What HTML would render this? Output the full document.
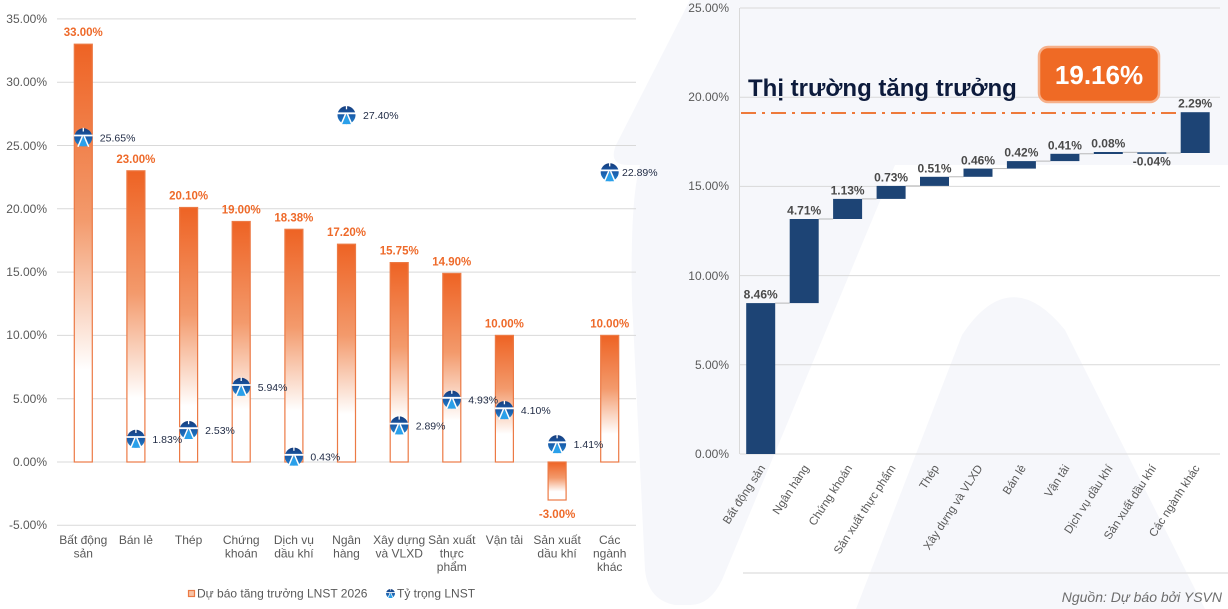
<!DOCTYPE html>
<html>
<head>
<meta charset="utf-8">
<style>
html,body{margin:0;padding:0;background:#fff;}
body{width:1228px;height:609px;overflow:hidden;}
svg{display:block;}
</style>
</head>
<body>
<svg width="1228" height="609" viewBox="0 0 1228 609" xmlns="http://www.w3.org/2000/svg" font-family="'Liberation Sans', Arial, sans-serif">
<defs>
  <linearGradient id="og" x1="0" y1="0" x2="0" y2="1">
    <stop offset="0" stop-color="#ee6324"/>
    <stop offset="0.42" stop-color="#f39a6c"/>
    <stop offset="0.78" stop-color="#ffffff"/>
    <stop offset="1" stop-color="#ffffff"/>
  </linearGradient>
  <linearGradient id="mg" x1="0" y1="0" x2="0" y2="1">
    <stop offset="0" stop-color="#163d7c"/>
    <stop offset="0.45" stop-color="#1a5aa8"/>
    <stop offset="1" stop-color="#1f80cc"/>
  </linearGradient>
  <g id="mk">
    <circle r="9" fill="url(#mg)"/>
    <polygon points="0,-0.5 -4.8,9 4.8,9" fill="#2aa0ea"/>
    <path d="M-9.5,-1.8 H9.5" stroke="#fff" stroke-width="1.8"/>
    <path d="M-0.9,-1 L-5.4,9.5 M0.9,-1 L5.4,9.5" stroke="#fff" stroke-width="1.5"/>
    <path d="M0,-9.5 V-5.8" stroke="#fff" stroke-width="1.3"/>
  </g>
</defs>

<!-- watermark shapes -->
<g fill="#f6f7fb">
  <path d="M690,0 L1228,0 L1228,165 L628,165 Q608,165 616,145 Z"/>
  <path d="M640,165 L895,165 L722,580 Q710,605 690,605 L675,605 Q648,600 645,570 L632,300 Q630,200 640,165 Z"/>
  <path d="M856,609 L962,335 Q1010,262 1065,330 L1205,609 Z"/>
</g>

<!-- ================= LEFT CHART ================= -->
<g stroke="#d9d9d9" stroke-width="1">
  <line x1="57" x2="636" y1="18.9" y2="18.9"/>
  <line x1="57" x2="636" y1="82.2" y2="82.2"/>
  <line x1="57" x2="636" y1="145.5" y2="145.5"/>
  <line x1="57" x2="636" y1="208.8" y2="208.8"/>
  <line x1="57" x2="636" y1="272.1" y2="272.1"/>
  <line x1="57" x2="636" y1="335.4" y2="335.4"/>
  <line x1="57" x2="636" y1="398.7" y2="398.7"/>
  <line x1="57" x2="636" y1="462" y2="462"/>
  <line x1="57" x2="636" y1="525.3" y2="525.3"/>
</g>
<g font-size="12" fill="#595959" text-anchor="end">
  <text x="47" y="23">35.00%</text>
  <text x="47" y="86">30.00%</text>
  <text x="47" y="150">25.00%</text>
  <text x="47" y="213">20.00%</text>
  <text x="47" y="276">15.00%</text>
  <text x="47" y="339">10.00%</text>
  <text x="47" y="403">5.00%</text>
  <text x="47" y="466">0.00%</text>
  <text x="47" y="529">-5.00%</text>
</g>

<g fill="url(#og)" stroke="#ec7a45" stroke-width="1.2">
  <rect x="74.3" y="44.2" width="18" height="417.8"/>
  <rect x="126.9" y="170.8" width="18" height="291.2"/>
  <rect x="179.6" y="207.5" width="18" height="254.5"/>
  <rect x="232.2" y="221.5" width="18" height="240.5"/>
  <rect x="284.9" y="229.3" width="18" height="232.7"/>
  <rect x="337.5" y="244.2" width="18" height="217.8"/>
  <rect x="390.2" y="262.6" width="18" height="199.4"/>
  <rect x="442.8" y="273.4" width="18" height="188.6"/>
  <rect x="495.4" y="335.4" width="18" height="126.6"/>
  <rect x="548.1" y="462" width="18" height="38"/>
  <rect x="600.7" y="335.4" width="18" height="126.6"/>
</g>

<g font-size="11.5" font-weight="bold" fill="#ee6a2a" text-anchor="middle">
  <text x="83.3" y="36">33.00%</text>
  <text x="135.9" y="163">23.00%</text>
  <text x="188.6" y="199.5">20.10%</text>
  <text x="241.2" y="213.5">19.00%</text>
  <text x="293.9" y="221.3">18.38%</text>
  <text x="346.5" y="236.2">17.20%</text>
  <text x="399.2" y="254.6">15.75%</text>
  <text x="451.8" y="265.4">14.90%</text>
  <text x="504.4" y="327.4">10.00%</text>
  <text x="557.1" y="518">-3.00%</text>
  <text x="609.7" y="327.4">10.00%</text>
</g>

<use href="#mk" x="83.3" y="137.3"/>
<use href="#mk" x="135.9" y="438.8"/>
<use href="#mk" x="188.6" y="430"/>
<use href="#mk" x="241.2" y="386.8"/>
<use href="#mk" x="293.9" y="456.6"/>
<use href="#mk" x="346.5" y="115.1"/>
<use href="#mk" x="399.2" y="425.4"/>
<use href="#mk" x="451.8" y="399.6"/>
<use href="#mk" x="504.4" y="410.1"/>
<use href="#mk" x="557.1" y="444.1"/>
<use href="#mk" x="609.7" y="172.2"/>

<g font-size="10.5" fill="#1f2a44">
  <text x="99.8" y="141.3">25.65%</text>
  <text x="152.4" y="442.8">1.83%</text>
  <text x="205.1" y="434">2.53%</text>
  <text x="257.7" y="390.8">5.94%</text>
  <text x="310.4" y="460.6">0.43%</text>
  <text x="363" y="119.1">27.40%</text>
  <text x="415.7" y="429.4">2.89%</text>
  <text x="468.3" y="403.6">4.93%</text>
  <text x="520.9" y="414.1">4.10%</text>
  <text x="573.6" y="448.1">1.41%</text>
  <text x="622" y="176.2">22.89%</text>
</g>

<g font-size="12" fill="#595959" text-anchor="middle">
  <text x="83.3" y="544">Bất động</text><text x="83.3" y="557.5">sản</text>
  <text x="135.9" y="544">Bán lẻ</text>
  <text x="188.6" y="544">Thép</text>
  <text x="241.2" y="544">Chứng</text><text x="241.2" y="557.5">khoán</text>
  <text x="293.9" y="544">Dịch vụ</text><text x="293.9" y="557.5">dầu khí</text>
  <text x="346.5" y="544">Ngân</text><text x="346.5" y="557.5">hàng</text>
  <text x="399.2" y="544">Xây dựng</text><text x="399.2" y="557.5">và VLXD</text>
  <text x="451.8" y="544">Sản xuất</text><text x="451.8" y="557.5">thực</text><text x="451.8" y="571">phẩm</text>
  <text x="504.4" y="544">Vận tải</text>
  <text x="557.1" y="544">Sản xuất</text><text x="557.1" y="557.5">dầu khí</text>
  <text x="609.7" y="544">Các</text><text x="609.7" y="557.5">ngành</text><text x="609.7" y="571">khác</text>
</g>

<!-- legend -->
<rect x="188.5" y="590.5" width="6" height="6" fill="#f8c3a6" stroke="#ec7a45" stroke-width="1.2"/>
<text x="197" y="597.5" font-size="12" fill="#595959">Dự báo tăng trưởng LNST 2026</text>
<g transform="translate(390.5,593.5) scale(0.5)"><use href="#mk"/></g>
<text x="397" y="597.5" font-size="12" fill="#595959">Tỷ trọng LNST</text>

<!-- ================= RIGHT CHART ================= -->
<g stroke="#d9d9d9" stroke-width="1">
  <line x1="740" x2="1220" y1="8" y2="8"/>
  <line x1="740" x2="1220" y1="97.2" y2="97.2"/>
  <line x1="740" x2="1220" y1="186.4" y2="186.4"/>
  <line x1="740" x2="1220" y1="275.6" y2="275.6"/>
  <line x1="740" x2="1220" y1="364.8" y2="364.8"/>
  <line x1="740" x2="1220" y1="454" y2="454"/>
  <line x1="739.5" x2="739.5" y1="8" y2="454"/>
</g>
<g font-size="12" fill="#595959" text-anchor="end">
  <text x="729" y="12">25.00%</text>
  <text x="729" y="101">20.00%</text>
  <text x="729" y="190">15.00%</text>
  <text x="729" y="280">10.00%</text>
  <text x="729" y="369">5.00%</text>
  <text x="729" y="458">0.00%</text>
</g>

<!-- connectors -->
<g stroke="#b0b0b0" stroke-width="0.9">
  <line x1="775.2" x2="789.7" y1="303.1" y2="303.1"/>
  <line x1="818.7" x2="833.1" y1="219" y2="219"/>
  <line x1="862.1" x2="876.6" y1="198.9" y2="198.9"/>
  <line x1="905.6" x2="920" y1="185.9" y2="185.9"/>
  <line x1="949" x2="963.5" y1="176.8" y2="176.8"/>
  <line x1="992.5" x2="1006.9" y1="168.6" y2="168.6"/>
  <line x1="1035.9" x2="1050.4" y1="161.1" y2="161.1"/>
  <line x1="1079.4" x2="1093.8" y1="153.8" y2="153.8"/>
  <line x1="1122.8" x2="1137.3" y1="152.3" y2="152.3"/>
  <line x1="1166.3" x2="1180.7" y1="153" y2="153"/>
</g>

<g fill="#1d4475">
  <rect x="746.2" y="303.1" width="29" height="150.9"/>
  <rect x="789.7" y="219" width="29" height="84.1"/>
  <rect x="833.1" y="198.9" width="29" height="20.1"/>
  <rect x="876.6" y="185.9" width="29" height="13"/>
  <rect x="920" y="176.8" width="29" height="9.1"/>
  <rect x="963.5" y="168.6" width="29" height="8.2"/>
  <rect x="1006.9" y="161.1" width="29" height="7.5"/>
  <rect x="1050.4" y="153.8" width="29" height="7.3"/>
  <rect x="1093.8" y="152" width="29" height="2"/>
  <rect x="1137.3" y="152.3" width="29" height="1.5"/>
  <rect x="1180.7" y="112.2" width="29" height="40.8"/>
</g>

<g font-size="12" font-weight="bold" fill="#4a4a4a" text-anchor="middle">
  <text x="760.7" y="298.5">8.46%</text>
  <text x="804.2" y="214.5">4.71%</text>
  <text x="847.6" y="194.5">1.13%</text>
  <text x="891.1" y="181.5">0.73%</text>
  <text x="934.5" y="172.5">0.51%</text>
  <text x="978" y="164.5">0.46%</text>
  <text x="1021.4" y="156.5">0.42%</text>
  <text x="1064.9" y="149.5">0.41%</text>
  <text x="1108.3" y="147.5">0.08%</text>
  <text x="1151.8" y="165.5">-0.04%</text>
  <text x="1195.2" y="107.5">2.29%</text>
</g>

<!-- market line -->
<line x1="741" x2="1178" y1="113" y2="113" stroke="#ee7a3b" stroke-width="2" stroke-dasharray="15 6 3 6"/>
<text x="748" y="96" font-size="24" font-weight="bold" fill="#0d1b3c">Thị trường tăng trưởng</text>
<rect x="1039" y="47" width="120" height="55" rx="9" ry="9" fill="#ef6a25" stroke="#f6b08a" stroke-width="2.5"/>
<text x="1099" y="84" font-size="26" font-weight="bold" fill="#ffffff" text-anchor="middle">19.16%</text>

<!-- rotated category labels -->
<g font-size="11.5" fill="#595959" text-anchor="end">
  <text transform="translate(765.7,468) rotate(-57)">Bất động sản</text>
  <text transform="translate(809.2,468) rotate(-57)">Ngân hàng</text>
  <text transform="translate(852.6,468) rotate(-57)">Chứng khoán</text>
  <text transform="translate(896.1,468) rotate(-57)">Sản xuất thực phẩm</text>
  <text transform="translate(939.5,468) rotate(-57)">Thép</text>
  <text transform="translate(983,468) rotate(-57)">Xây dựng và VLXD</text>
  <text transform="translate(1026.4,468) rotate(-57)">Bán lẻ</text>
  <text transform="translate(1069.9,468) rotate(-57)">Vận tải</text>
  <text transform="translate(1113.3,468) rotate(-57)">Dịch vụ dầu khí</text>
  <text transform="translate(1156.8,468) rotate(-57)">Sản xuất dầu khí</text>
  <text transform="translate(1200.2,468) rotate(-57)">Các ngành khác</text>
</g>

<line x1="743" x2="1228" y1="573" y2="573" stroke="#e4e4e4" stroke-width="1.5"/>
<text x="1222" y="602" font-size="14" font-style="italic" fill="#6e6e6e" text-anchor="end">Nguồn: Dự báo bởi YSVN</text>
</svg>
</body>
</html>
